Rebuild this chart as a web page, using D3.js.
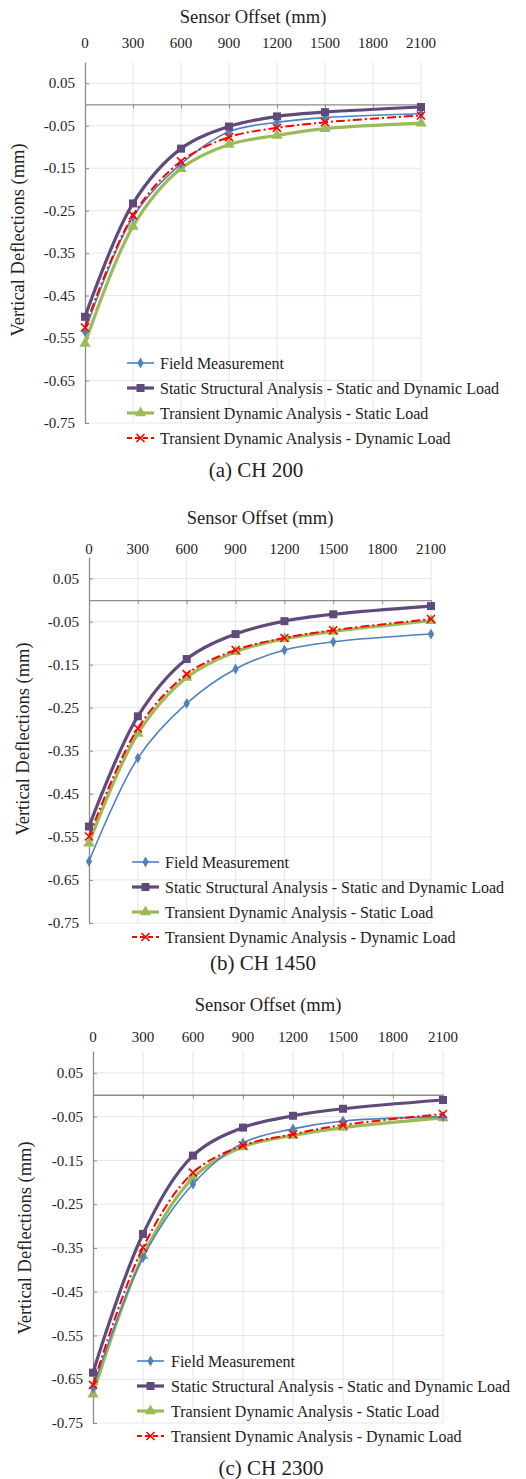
<!DOCTYPE html>
<html>
<head>
<meta charset="utf-8">
<script src="https://cdn.jsdelivr.net/npm/d3@7"></script>
<style>
  html, body { margin: 0; padding: 0; background: #fff; }
  svg { display: block; }
</style>
</head>
<body>
<svg id="chart" width="526" height="1479"></svg>
<script>
// ── Vertical deflection charts ─────────────────────────────────────
const offsets = [0, 300, 600, 900, 1200, 1500, 2100];
const xTicks = [0, 300, 600, 900, 1200, 1500, 1800, 2100];
const yTicks = [0.05, -0.05, -0.15, -0.25, -0.35, -0.45, -0.55, -0.65, -0.75];

const seriesNames = [
    'Field Measurement',
    'Static Structural Analysis - Static and Dynamic Load',
    'Transient Dynamic Analysis - Static Load',
    'Transient Dynamic Analysis - Dynamic Load'
];
const captions = ['(a) CH 200', '(b) CH 1450', '(c) CH 2300'];

// CH 200
const ch200Field   = [-0.535, -0.265, -0.140, -0.064, -0.042, -0.031, -0.022];
const ch200Static  = [-0.500, -0.233, -0.104, -0.052, -0.028, -0.018, -0.006];
const ch200TdaSt   = [-0.563, -0.287, -0.151, -0.094, -0.073, -0.057, -0.044];
const ch200TdaDyn  = [-0.525, -0.261, -0.134, -0.077, -0.055, -0.042, -0.026];

// CH 1450
const ch1450Field  = [-0.607, -0.367, -0.240, -0.160, -0.116, -0.097, -0.079];
const ch1450Static = [-0.526, -0.270, -0.137, -0.079, -0.049, -0.033, -0.014];
const ch1450TdaSt  = [-0.565, -0.310, -0.180, -0.120, -0.090, -0.073, -0.048];
const ch1450TdaDyn = [-0.549, -0.298, -0.172, -0.116, -0.088, -0.070, -0.044];

// CH 2300
const ch2300Field  = [-0.670, -0.372, -0.204, -0.110, -0.078, -0.060, -0.050];
const ch2300Static = [-0.635, -0.318, -0.139, -0.075, -0.048, -0.032, -0.012];
const ch2300TdaSt  = [-0.684, -0.368, -0.190, -0.119, -0.093, -0.075, -0.053];
const ch2300TdaDyn = [-0.663, -0.349, -0.178, -0.116, -0.090, -0.069, -0.044];

const panelData = [
    [ch200Field, ch200Static, ch200TdaSt, ch200TdaDyn],
    [ch1450Field, ch1450Static, ch1450TdaSt, ch1450TdaDyn],
    [ch2300Field, ch2300Static, ch2300TdaSt, ch2300TdaDyn]
];

const FONT = '"Liberation Serif", "Times New Roman", serif';

// Styles per series
const styles = [
    { color: '#4f81bd', width: 1.6, dash: null, marker: 'diamond', size: 34 },
    { color: '#604a7b', width: 3.2, dash: null, marker: 'square', size: 64 },
    { color: '#9bbb59', width: 3.2, dash: null, marker: 'triangle', size: 56 },
    { color: '#ff0000', width: 2.0, dash: '9,3,2,3', marker: 'x', size: 0 }
];

// Layout of each panel (pixels)
const layouts = [
    { left: 85, right: 421, top: 62,   bottom: 423,  titleY: 17,   tickY: 43,   capY: 470,
      yTitleX: 18, yTitleY: 240,  legLine: 127, legText: 160, legY: 363 },
    { left: 89, right: 431, top: 557,  bottom: 923,  titleY: 518,  tickY: 549,  capY: 963,
      yTitleX: 23, yTitleY: 739,  legLine: 132, legText: 165, legY: 862 },
    { left: 93, right: 443, top: 1051, bottom: 1423, titleY: 1005, tickY: 1037, capY: 1468,
      yTitleX: 25, yTitleY: 1238, legLine: 137, legText: 171, legY: 1361 }
];

const svg = d3.select('#chart');

function addText(sel, size) {
    return sel.append('text')
        .attr('font-family', FONT)
        .attr('fill', '#222')
        .attr('font-size', size);
}

function drawMarker(g, type, x, y, st) {
    if (type === 'x') {
        const r = 4;
        g.append('path')
            .attr('d', `M${x - r},${y - r}L${x + r},${y + r}M${x - r},${y + r}L${x + r},${y - r}`)
            .attr('stroke', st.color).attr('stroke-width', 1.6).attr('fill', 'none');
        return;
    }
    const symType = type === 'diamond' ? d3.symbolDiamond
        : type === 'square' ? d3.symbolSquare : d3.symbolTriangle;
    g.append('path')
        .attr('d', d3.symbol().type(symType).size(st.size)())
        .attr('transform', `translate(${x},${y})`)
        .attr('fill', st.color);
}

layouts.forEach(function (L, pi) {
    const g = svg.append('g');

    const x = d3.scaleLinear().domain([0, 2100]).range([L.left, L.right]);
    const y = d3.scaleLinear().domain([0.1, -0.75]).range([L.top, L.bottom]);

    // gridlines
    g.append('g').selectAll('line')
        .data(xTicks.slice(1))
        .enter().append('line')
        .attr('x1', d => x(d)).attr('x2', d => x(d))
        .attr('y1', L.top).attr('y2', L.bottom)
        .attr('stroke', '#e6e6e6').attr('stroke-width', 1);
    g.append('g').selectAll('line')
        .data(yTicks)
        .enter().append('line')
        .attr('x1', L.left).attr('x2', L.right)
        .attr('y1', d => y(d)).attr('y2', d => y(d))
        .attr('stroke', '#e6e6e6').attr('stroke-width', 1);

    // y axis (ticks pointing inward)
    const yAxis = d3.axisRight(y).tickValues(yTicks).tickSize(4).tickFormat('').tickSizeOuter(0);
    const ya = g.append('g').attr('transform', `translate(${L.left},0)`).call(yAxis);
    ya.select('.domain').attr('stroke', '#8c8c8c').attr('stroke-width', 1.3);
    ya.selectAll('.tick line').attr('stroke', '#8c8c8c');

    yTicks.forEach(function (d) {
        addText(g, 15)
            .attr('x', L.left - 10).attr('y', y(d))
            .attr('dy', '0.35em')
            .attr('text-anchor', 'end')
            .text(d3.format('.2f')(d).replace('\u2212', '-'));
    });

    // x axis at zero, ticks pointing down
    const xAxis = d3.axisBottom(x).tickValues(xTicks).tickSize(4).tickFormat('').tickSizeOuter(0);
    const xa = g.append('g').attr('transform', `translate(0,${y(0)})`).call(xAxis);
    xa.select('.domain').attr('stroke', '#8c8c8c').attr('stroke-width', 1.3);
    xa.selectAll('.tick line').attr('stroke', '#8c8c8c');

    // x tick labels on top
    xTicks.forEach(function (d) {
        addText(g, 15)
            .attr('x', x(d)).attr('y', L.tickY)
            .attr('dy', '0.35em')
            .attr('text-anchor', 'middle')
            .text(d);
    });

    // axis titles
    addText(g, 18.5)
        .attr('x', (L.left + L.right) / 2).attr('y', L.titleY)
        .attr('dy', '0.35em').attr('text-anchor', 'middle')
        .text('Sensor Offset (mm)');
    addText(g, 18.5)
        .attr('transform', `translate(${L.yTitleX},${L.yTitleY}) rotate(-90)`)
        .attr('dy', '0.35em').attr('text-anchor', 'middle')
        .text('Vertical Deflections (mm)');

    // series
    const line = d3.line()
        .x((d, i) => x(offsets[i]))
        .y(d => y(d))
        .curve(d3.curveCatmullRom.alpha(0.5));

    const order = [2, 0, 3, 1];
    order.forEach(function (si) {
        const st = styles[si];
        const vals = panelData[pi][si];
        g.append('path')
            .datum(vals)
            .attr('d', line)
            .attr('fill', 'none')
            .attr('stroke', st.color)
            .attr('stroke-width', st.width)
            .attr('stroke-dasharray', st.dash);
        const mg = g.append('g');
        vals.forEach(function (v, i) {
            drawMarker(mg, st.marker, x(offsets[i]), y(v), st);
        });
    });

    // legend
    seriesNames.forEach(function (name, si) {
        const st = styles[si];
        const ly = L.legY + si * 25;
        const lg = g.append('g');
        lg.append('line')
            .attr('x1', L.legLine).attr('x2', L.legLine + 27)
            .attr('y1', ly).attr('y2', ly)
            .attr('stroke', st.color)
            .attr('stroke-width', st.width)
            .attr('stroke-dasharray', si === 3 ? '5,3' : null);
        drawMarker(lg, st.marker, L.legLine + 13.5, ly, st);
        addText(lg, 16)
            .attr('x', L.legText).attr('y', ly)
            .attr('dy', '0.35em')
            .text(name);
    });

    // caption
    addText(g, 21)
        .attr('x', (L.left + L.right) / 2 + 3).attr('y', L.capY)
        .attr('dy', '0.35em').attr('text-anchor', 'middle')
        .text(captions[pi]);
});
</script>
</body>
</html>
